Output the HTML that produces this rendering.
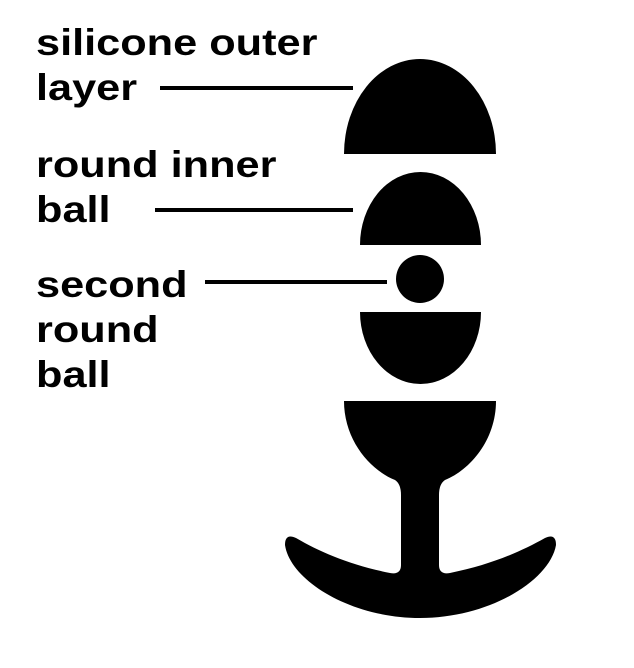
<!DOCTYPE html>
<html><head><style>
body{margin:0;background:#fff;width:634px;height:668px;overflow:hidden;position:relative}
.t{position:absolute;left:36px;font:bold 37px "Liberation Sans",sans-serif;line-height:45px;color:#000;margin:0;transform:scaleX(1.17);transform-origin:0 0;white-space:nowrap}
</style></head><body>
<div class="t" style="top:20px">silicone outer<br>layer</div>
<div class="t" style="top:142px">round inner<br>ball</div>
<div class="t" style="top:262px">second<br>round<br>ball</div>
<svg width="634" height="668" style="position:absolute;left:0;top:0">
<g fill="#000">
<path d="M344,154 A76,95 0 0 1 496,154 Z"/>
<path d="M360,245 A60.5,73 0 0 1 481,245 Z"/>
<circle cx="420" cy="279" r="24"/>
<path d="M360,312 A60.5,72 0 0 0 481,312 Z"/>
<path d="M344,401 H496 C496,440 470,470 445,480 Q439,484 439,495 V565 Q439,575 450,573 C490,565 520,552 545,538 Q556,533 556,545 C550,580 490,618 420,618 C350,618 290,580 285,545 Q285,533 296,538 C320,552 350,565 390,573 Q401,575 401,565 V495 Q401,484 395,480 C370,470 344,440 344,401 Z"/>
</g>
<g stroke="#000" stroke-width="4">
<line x1="160" y1="88" x2="353" y2="88"/>
<line x1="155" y1="210" x2="353" y2="210"/>
<line x1="205" y1="282" x2="387" y2="282"/>
</g>
</svg>
</body></html>
